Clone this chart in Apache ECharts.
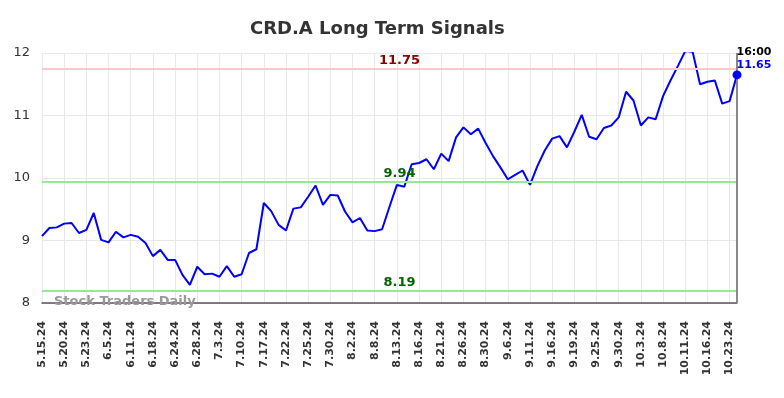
<!DOCTYPE html>
<html>
<head>
<meta charset="utf-8">
<script src="https://cdn.jsdelivr.net/npm/echarts@6/dist/echarts.min.js"></script>
<style>
  html, body { margin: 0; padding: 0; background: #fff; }
  #chart { width: 784px; height: 398px; }
</style>
</head>
<body>
<div id="chart"></div>
<script>
  // dates of the closes (every third one is shown on the axis)
  const dates = [
    "5.15.24", "5.16.24", "5.17.24", "5.20.24", "5.21.24", "5.22.24", "5.23.24", "5.24.24", "5.31.24",
    "6.5.24", "6.6.24", "6.7.24", "6.11.24", "6.12.24", "6.14.24", "6.18.24", "6.20.24", "6.21.24",
    "6.24.24", "6.25.24", "6.26.24", "6.28.24", "7.1.24", "7.2.24", "7.3.24", "7.5.24", "7.8.24",
    "7.10.24", "7.11.24", "7.12.24", "7.17.24", "7.18.24", "7.19.24", "7.22.24", "7.23.24", "7.24.24",
    "7.25.24", "7.26.24", "7.29.24", "7.30.24", "7.31.24", "8.1.24", "8.2.24", "8.5.24", "8.6.24",
    "8.8.24", "8.9.24", "8.12.24", "8.13.24", "8.14.24", "8.15.24", "8.16.24", "8.19.24", "8.20.24",
    "8.21.24", "8.22.24", "8.23.24", "8.26.24", "8.27.24", "8.28.24", "8.30.24", "9.3.24", "9.4.24",
    "9.6.24", "9.9.24", "9.10.24", "9.11.24", "9.12.24", "9.13.24", "9.16.24", "9.17.24", "9.18.24",
    "9.19.24", "9.20.24", "9.23.24", "9.25.24", "9.26.24", "9.27.24", "9.30.24", "10.1.24", "10.2.24",
    "10.3.24", "10.4.24", "10.7.24", "10.8.24", "10.9.24", "10.10.24", "10.11.24", "10.14.24", "10.15.24",
    "10.16.24", "10.17.24", "10.21.24", "10.23.24", "10.24.24"
  ];

  const closes = [
    9.07, 9.20, 9.21, 9.27, 9.28, 9.12, 9.17, 9.44, 9.01,
    8.97, 9.14, 9.05, 9.09, 9.06, 8.96, 8.75, 8.85, 8.69,
    8.69, 8.45, 8.29, 8.58, 8.46, 8.47, 8.42, 8.59, 8.42,
    8.46, 8.80, 8.86, 9.60, 9.47, 9.25, 9.16, 9.51, 9.53,
    9.70, 9.88, 9.57, 9.73, 9.72, 9.46, 9.29, 9.36, 9.16,
    9.15, 9.18, 9.54, 9.89, 9.86, 10.22, 10.24, 10.30, 10.14,
    10.39, 10.27, 10.65, 10.81, 10.70, 10.79, 10.56, 10.35, 10.17,
    9.98, 10.05, 10.12, 9.89, 10.19, 10.44, 10.63, 10.67, 10.49,
    10.74, 11.01, 10.66, 10.62, 10.80, 10.84, 10.97, 11.38, 11.24,
    10.84, 10.97, 10.94, 11.31, 11.56, 11.79, 12.03, 12.02, 11.50,
    11.54, 11.56, 11.19, 11.23, 11.65
  ];

  const resistance = 11.75;
  const supports = [9.94, 8.19];
  const yTicks = [8, 9, 10, 11, 12];
  const lastTime = "16:00";

  const FONT = "DejaVu Sans";
  const lastIdx = closes.length - 1;

  function levelLine(value, lineColor, textColor) {
    return {
      yAxis: value,
      lineStyle: { color: lineColor, width: 2, type: "solid" },
      label: {
        show: true,
        position: "insideMiddleTop",
        formatter: value.toFixed(2),
        color: textColor,
        fontFamily: FONT,
        fontWeight: "bold",
        fontSize: 13,
        padding: [0, 0, 0, 20],
        distance: 2
      }
    };
  }

  const chart = echarts.init(document.getElementById("chart"), null, { renderer: "canvas" });

  chart.setOption({
    animation: false,
    title: {
      text: "CRD.A Long Term Signals",
      left: 245,
      top: 15,
      textStyle: { fontFamily: FONT, fontSize: 18, fontWeight: "bold", color: "#333" }
    },
    grid: { left: 42, right: 47, top: 53, bottom: 95, containLabel: false },
    xAxis: {
      type: "category",
      data: dates,
      boundaryGap: false,
      axisLine: { lineStyle: { color: "#555", width: 1.5 } },
      axisTick: { show: false, interval: 2 },
      splitLine: { show: true, interval: 2, lineStyle: { color: "#e8e8e8", width: 1 } },
      axisLabel: {
        interval: 2,
        rotate: 90,
        margin: 18,
        fontFamily: FONT,
        fontSize: 11,
        fontWeight: "bold",
        color: "#333"
      }
    },
    yAxis: {
      type: "value",
      min: yTicks[0],
      max: yTicks[yTicks.length - 1],
      interval: 1,
      axisLine: { show: false },
      axisTick: { show: false },
      splitLine: { lineStyle: { color: "#e8e8e8", width: 1 } },
      axisLabel: { margin: 12, fontFamily: FONT, fontSize: 13, color: "#333" }
    },
    graphic: [
      {
        type: "text",
        left: 54,
        top: 295,
        z: 10,
        style: {
          text: "Stock Traders Daily",
          fontFamily: FONT,
          fontSize: 13,
          fontWeight: "bold",
          fill: "#999"
        }
      }
    ],
    series: [
      {
        type: "line",
        data: closes,
        symbol: "none",
        lineStyle: { color: "#0000ff", width: 2 },
        itemStyle: { color: "#0000ff" },
        markLine: {
          silent: true,
          symbol: "none",
          data: [
            levelLine(resistance, "#ffc8c8", "#8b0000"),
            levelLine(supports[0], "#99e699", "#006400"),
            levelLine(supports[1], "#99e699", "#006400"),
            {
              xAxis: lastIdx,
              lineStyle: { color: "#888", width: 2, type: "solid" },
              label: { show: false }
            }
          ]
        },
        markPoint: {
          silent: true,
          data: [
            {
              coord: [lastIdx, closes[lastIdx]],
              symbol: "circle",
              symbolSize: 9,
              itemStyle: { color: "#0000ff" },
              label: {
                show: true,
                position: [4, -25],
                align: "left",
                verticalAlign: "top",
                formatter: "{t|" + lastTime + "}\n{v|" + closes[lastIdx].toFixed(2) + "}",
                rich: {
                  t: { fontFamily: FONT, fontSize: 11, fontWeight: "bold", color: "#000", lineHeight: 13 },
                  v: { fontFamily: FONT, fontSize: 11, fontWeight: "bold", color: "#0000ff", lineHeight: 13 }
                }
              }
            }
          ]
        }
      }
    ]
  });
</script>
</body>
</html>
